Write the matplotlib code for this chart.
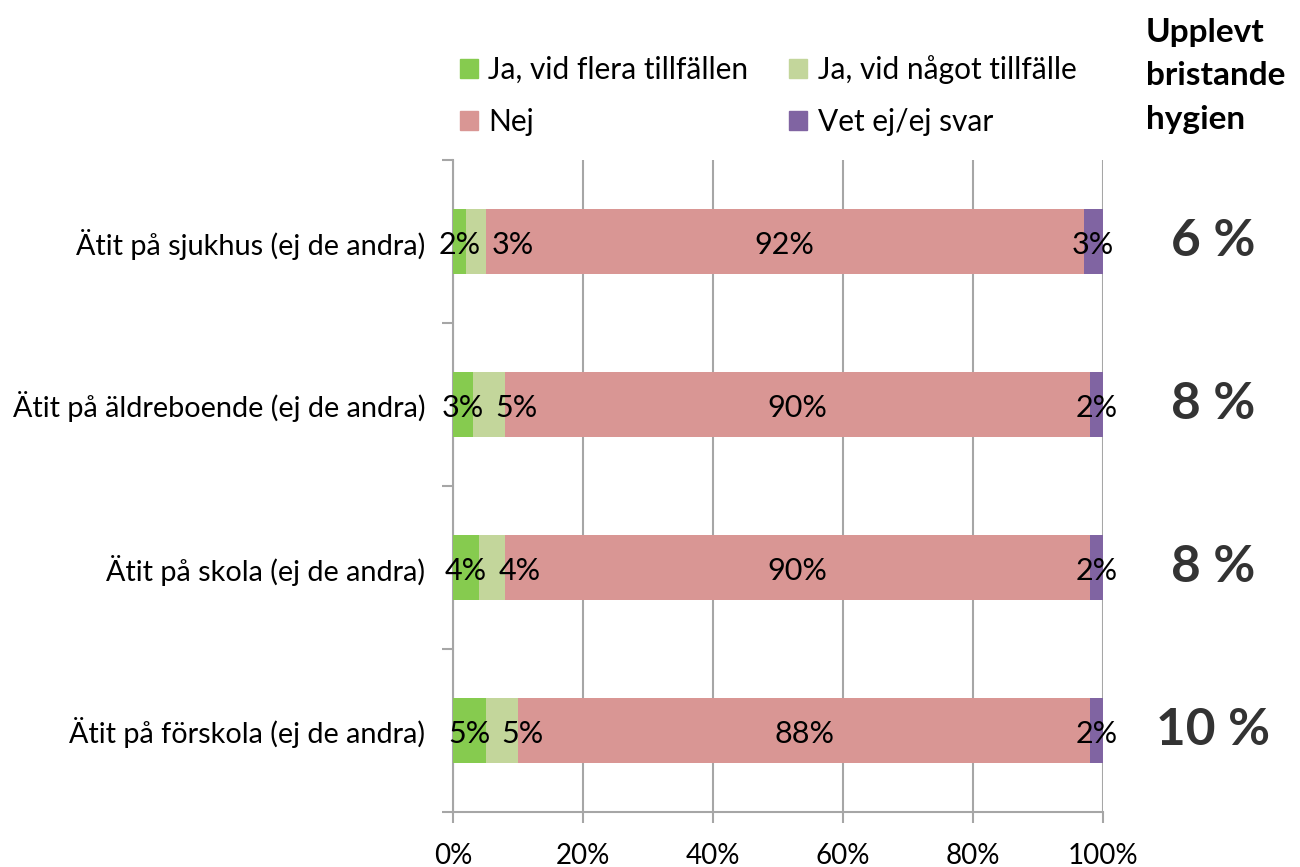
import matplotlib
matplotlib.use("Agg")
import matplotlib.pyplot as plt
from matplotlib.patches import Patch
import numpy as np

plt.rcParams['font.family'] = ['Lato', 'DejaVu Sans']

categories = ["Ätit på sjukhus (ej de andra)",
              "Ätit på äldreboende (ej de andra)",
              "Ätit på skola (ej de andra)",
              "Ätit på förskola (ej de andra)"]
series_names = ["Ja, vid flera tillfällen", "Ja, vid något tillfälle", "Nej", "Vet ej/ej svar"]
flera = [2, 3, 4, 5]
nagot = [3, 5, 4, 5]
nej = [92, 90, 90, 88]
vetej = [3, 2, 2, 2]
hygien = ["6 %", "8 %", "8 %", "10 %"]
xticks = [0, 20, 40, 60, 80, 100]
xticklabels = ["0%", "20%", "40%", "60%", "80%", "100%"]

colors = ["#86CB4F", "#C3D69B", "#D99694", "#8064A2"]
grid_col = "#A6A6A6"

fig = plt.figure(figsize=(13, 8.67), dpi=100)
ax = fig.add_axes([453/1300, 1-812/867, 650/1300, 652/867])

y = np.arange(len(categories))
data = [flera, nagot, nej, vetej]
left = np.zeros(len(categories))
bars = []
for vals, col, name in zip(data, colors, series_names):
    ax.barh(y, vals, left=left, height=0.4, color=col, label=name, zorder=3)
    bars.append((np.array(vals, float), left.copy()))
    left = left + np.array(vals)

fs = 20.8
lfs = 22
for i in range(len(categories)):
    # green
    v, l = bars[0][0][i], bars[0][1][i]
    gc = l + v / 2
    ax.text(gc, i + 0.02, f"{int(v)}%", ha='center', va='center', fontsize=lfs, zorder=4)
    # light green (left aligned near segment centre, shifted to avoid overlap)
    v, l = bars[1][0][i], bars[1][1][i]
    xl = max(l + v / 2, gc + 5.0)
    ax.text(xl, i + 0.02, f"{int(v)}%", ha='left', va='center', fontsize=lfs, zorder=4)
    # nej
    v, l = bars[2][0][i], bars[2][1][i]
    ax.text(l + v / 2, i + 0.02, f"{int(v)}%", ha='center', va='center', fontsize=lfs, zorder=4)
    # vet ej
    v, l = bars[3][0][i], bars[3][1][i]
    ax.text(l + v / 2, i + 0.02, f"{int(v)}%", ha='center', va='center', fontsize=lfs, zorder=4)
    # right side numbers
    ax.text(1.17, i, hygien[i], transform=ax.get_yaxis_transform(), ha='center', va='center',
            fontsize=37, fontweight='bold', color='#333333')

ax.set_xlim(0, 100)
ax.set_ylim(len(categories) - 0.5, -0.5)
ax.set_yticks(y)
ax.set_yticklabels(categories, fontsize=fs)
ax.set_yticks(np.arange(-0.5, len(categories)), minor=True)
ax.tick_params(axis='y', which='major', length=0, pad=20)
ax.tick_params(axis='y', which='minor', length=8, width=1.5, color=grid_col)
ax.set_xticks(xticks)
ax.set_xticklabels(xticklabels, fontsize=20)
ax.tick_params(axis='x', length=8, width=1.5, color=grid_col, pad=14)
ax.grid(axis='x', color=grid_col, linewidth=1.5, zorder=0)
for s in ['top', 'right']:
    ax.spines[s].set_visible(False)
for s in ['left', 'bottom']:
    ax.spines[s].set_color(grid_col)
    ax.spines[s].set_linewidth(1.5)

handles = [Patch(color=c) for c in colors]
order = [0, 2, 1, 3]
fig.legend([handles[k] for k in order], [series_names[k] for k in order],
           loc='upper left', bbox_to_anchor=(460/1300, 1-55/867), ncol=2, frameon=False,
           fontsize=21.5, handlelength=0.6, handleheight=0.6, handletextpad=0.35,
           columnspacing=1.37, labelspacing=0.79, borderaxespad=0, borderpad=0)

fig.text(1146/1300, 1-18/867, "Upplevt\nbristande\nhygien", ha='left', va='top',
         fontsize=24, fontweight='bold', linespacing=1.6)

fig.savefig("out.png", dpi=100)
